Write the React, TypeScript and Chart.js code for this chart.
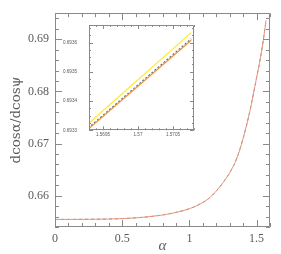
import React, { useEffect, useRef } from 'react';
import { Chart, registerables } from 'chart.js';
Chart.register(...registerables);

// ---- main panel data ----
const alpha = [0, 0.2, 0.4, 0.6, 0.8, 0.9, 1.0, 1.1, 1.15, 1.2, 1.25, 1.3, 1.35, 1.4, 1.45, 1.5, 1.53, 1.55, 1.5708];
const ratioValues = [0.65545, 0.65547, 0.65553, 0.65575, 0.6563, 0.6568, 0.6575, 0.6587, 0.6596, 0.6609, 0.6625, 0.6644, 0.667, 0.671, 0.6762, 0.6826, 0.6866, 0.6898, 0.69363];
const xTickLabels = ['0', '0.5', '1', '1.5'];
const yTickLabels = ['0.66', '0.67', '0.68', '0.69'];

// ---- inset data ----
const insetAlpha = [1.5692, 1.57076];
const insetYellow = [0.693303, 0.693634];
const insetDashed = [0.693289, 0.693613];
const insetOrange = [0.693285, 0.693608];
const insetXTickLabels = ['1.5695', '1.57', '1.5705'];
const insetYTickLabels = ['0.6933', '0.6934', '0.6935', '0.6936'];

const YELLOW = '#ffe92e';
const ORANGE = '#f0923a';
const MAIN_LINE = '#e7967c';
const DASHED = '#5d6e7e';
const FRAME = '#8a8a8a';
const LABEL = '#5a5a5a';

const pts = (xs: number[], ys: number[]) => xs.map((x, i) => ({ x, y: ys[i] }));

const frameTicks = {
  id: 'frameTicks',
  beforeDatasetsDraw(chart: any, _a: any, opts: any) {
    if (!opts.fill) return;
    const { ctx, chartArea: a } = chart;
    ctx.save();
    ctx.fillStyle = opts.fill;
    ctx.fillRect(a.left, a.top, a.right - a.left, a.bottom - a.top);
    ctx.restore();
  },
  afterDatasetsDraw(chart: any, _a: any, opts: any) {
    const { ctx, chartArea: a, scales } = chart;
    const x = scales.x, y = scales.y;
    ctx.save();
    ctx.strokeStyle = opts.color;
    ctx.lineWidth = 1;
    ctx.beginPath();
    ctx.rect(Math.round(a.left) + 0.5, Math.round(a.top) + 0.5, Math.round(a.right - a.left) - 1, Math.round(a.bottom - a.top) - 1);
    ctx.stroke();
    const isMajor = (v: number, majors: number[], step: number) => majors.some((m) => Math.abs(m - v) < step * 0.01);
    const each = (scale: any, step: number, majors: number[], fn: (p: number, major: boolean) => void) => {
      const k0 = Math.ceil(scale.min / step - 1e-6);
      const k1 = Math.floor(scale.max / step + 1e-6);
      for (let k = k0; k <= k1; k++) {
        const v = k * step;
        fn(Math.round(scale.getPixelForValue(v)) + 0.5, isMajor(v, majors, step));
      }
    };
    ctx.beginPath();
    each(x, opts.xStep, opts.xMajors, (p, major) => {
      const L = major ? opts.majorLen : opts.minorLen;
      ctx.moveTo(p, a.bottom); ctx.lineTo(p, a.bottom - L);
      ctx.moveTo(p, a.top); ctx.lineTo(p, a.top + L);
    });
    each(y, opts.yStep, opts.yMajors, (p, major) => {
      const L = major ? opts.majorLen : opts.minorLen;
      ctx.moveTo(a.left, p); ctx.lineTo(a.left + L, p);
      ctx.moveTo(a.right, p); ctx.lineTo(a.right - L, p);
    });
    ctx.stroke();
    ctx.restore();
  },
};

function axis(labels: string[], min: number, max: number, horizontal: boolean, size: number, font: any, padding: number, title?: any) {
  return {
    type: 'linear',
    min,
    max,
    afterBuildTicks: (s: any) => {
      s.ticks = labels.map((l) => ({ value: parseFloat(l) }));
    },
    afterFit: (s: any) => {
      if (horizontal) s.height = size;
      else s.width = size;
    },
    ticks: {
      autoSkip: false,
      maxRotation: 0,
      padding,
      color: LABEL,
      font,
      callback: (v: number) => labels.find((l) => Math.abs(parseFloat(l) - v) < 1e-9) ?? '',
    },
    grid: { display: false, drawTicks: false },
    border: { display: false },
    title: title ?? { display: false },
  };
}

export default function App() {
  const mainRef = useRef<HTMLCanvasElement>(null);
  const insetRef = useRef<HTMLCanvasElement>(null);

  useEffect(() => {
    const tickFont = { family: 'Liberation Serif', size: 12 };
    const main = new Chart(mainRef.current!, {
      type: 'line',
      data: {
        datasets: [
          { data: pts(alpha, ratioValues), borderColor: MAIN_LINE, borderWidth: 1, pointRadius: 0, cubicInterpolationMode: 'monotone' },
          { data: pts(alpha, ratioValues), borderColor: DASHED, borderWidth: 0.8, borderDash: [3, 3], pointRadius: 0, cubicInterpolationMode: 'monotone' },
        ],
      } as any,
      options: {
        animation: false,
        responsive: false,
        events: [],
        layout: { padding: { left: 0, top: 10, right: 11, bottom: 0 } },
        plugins: {
          legend: { display: false },
          tooltip: { enabled: false },
          frameTicks: { color: FRAME, xStep: 0.1, xMajors: [0, 0.5, 1, 1.5], yStep: 0.002, yMajors: [0.66, 0.67, 0.68, 0.69], majorLen: 7, minorLen: 4 },
        } as any,
        scales: {
          x: axis(xTickLabels, 0, 1.6, true, 27, tickFont, 5, {
            display: true, text: 'α', color: LABEL,
            font: { family: 'Liberation Serif', size: 15, style: 'italic', lineHeight: 1 },
            padding: { top: 0, bottom: 0 },
          }),
          y: axis(yTickLabels, 0.654, 0.695, false, 55, tickFont, 6, {
            display: true, text: 'dcosα/dcosψ', color: LABEL,
            font: { family: 'DejaVu Serif', size: 13.5, lineHeight: 1 },
            padding: { top: 10, bottom: 0 },
          }),
        } as any,
      },
      plugins: [frameTicks as any],
    });

    const smallFont = { family: 'Liberation Sans', size: 4.6 };
    const inset = new Chart(insetRef.current!, {
      type: 'line',
      data: {
        datasets: [
          { data: pts(insetAlpha, insetOrange), borderColor: ORANGE, borderWidth: 1.2, pointRadius: 0 },
          { data: pts(insetAlpha, insetDashed), borderColor: DASHED, borderWidth: 1.2, borderDash: [2, 2], pointRadius: 0 },
          { data: pts(insetAlpha, insetYellow), borderColor: YELLOW, borderWidth: 1.2, pointRadius: 0 },
        ],
      } as any,
      options: {
        animation: false,
        responsive: false,
        events: [],
        layout: { padding: { left: 0, top: 15, right: 11, bottom: 0 } },
        plugins: {
          legend: { display: false },
          tooltip: { enabled: false },
          frameTicks: { fill: '#ffffff', color: FRAME, xStep: 0.0001, xMajors: [1.5695, 1.57, 1.5705], yStep: 0.000025, yMajors: [0.6933, 0.6934, 0.6935, 0.6936], majorLen: 4, minorLen: 2 },
        } as any,
        scales: {
          x: axis(insetXTickLabels, 1.5693, 1.5708, true, 14, smallFont, 2),
          y: axis(insetYTickLabels, 0.6933, 0.69366, false, 34, smallFont, 12),
        } as any,
      },
      plugins: [frameTicks as any],
    });

    return () => {
      main.destroy();
      inset.destroy();
    };
  }, []);

  return (
    <div style={{ position: 'absolute', left: 0, top: 0, width: 281, height: 254, background: '#fff' }}>
      <canvas ref={mainRef} width={281} height={254} style={{ position: 'absolute', left: 0, top: 0, display: 'block' }} />
      <canvas ref={insetRef} width={150} height={135} style={{ position: 'absolute', left: 55, top: 10, display: 'block' }} />
    </div>
  );
}
